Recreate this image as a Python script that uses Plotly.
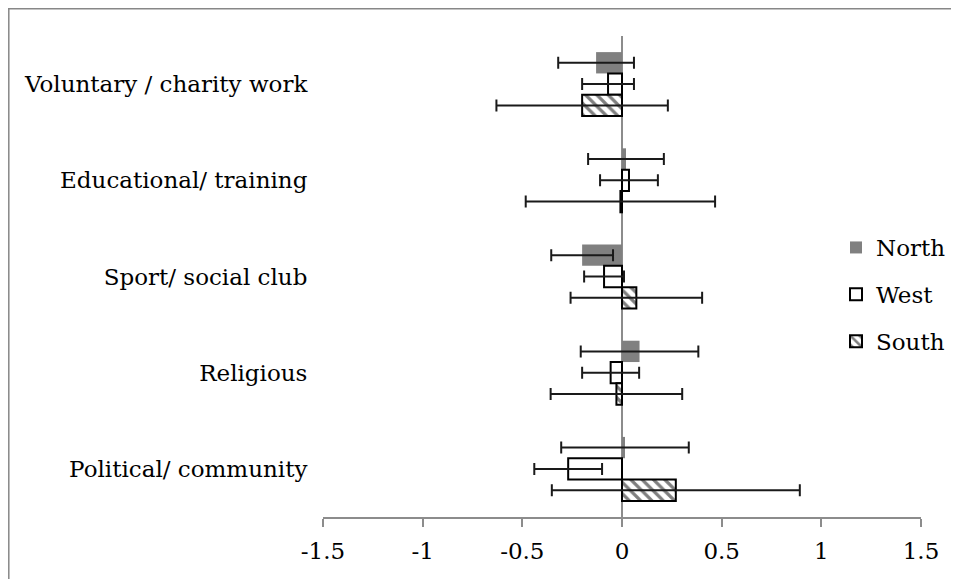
import plotly.graph_objects as go

categories = ["Voluntary / charity work", "Educational/ training", "Sport/ social club",
              "Religious", "Political/ community"]
north = [-0.13, 0.02, -0.20, 0.088, 0.015]
north_err = [0.19, 0.19, 0.155, 0.295, 0.32]
west = [-0.07, 0.035, -0.09, -0.057, -0.27]
west_err = [0.13, 0.145, 0.10, 0.143, 0.17]
south = [-0.20, -0.008, 0.072, -0.028, 0.27]
south_err = [0.43, 0.475, 0.33, 0.33, 0.622]
x_ticks = [-1.5, -1, -0.5, 0, 0.5, 1, 1.5]
x_ticklabels = ["-1.5", "-1", "-0.5", "0", "0.5", "1", "1.5"]

FONT = "DejaVu Serif"
FS = 23
ERR = dict(type="data", visible=True, color="#1a1a1a", thickness=2, width=6)

fig = go.Figure()
fig.add_trace(go.Bar(
    name="North", y=categories, x=north, orientation="h",
    marker=dict(color="#808080", line=dict(width=0)),
    error_x=dict(array=north_err, **ERR), legendgroup="n",
))
fig.add_trace(go.Bar(
    name="West", y=categories, x=west, orientation="h",
    marker=dict(color="white", line=dict(color="black", width=2)),
    error_x=dict(array=west_err, **ERR), legendgroup="w",
))
fig.add_trace(go.Bar(
    name="South", y=categories, x=south, orientation="h",
    marker=dict(color="white", line=dict(color="black", width=2),
                pattern=dict(shape="\\", fgcolor="black", bgcolor="white", size=8, solidity=0.4)),
    error_x=dict(array=south_err, **ERR), legendgroup="s",
))

# page offset (body margin) of 8px
OFF = 8
W, H = 959, 579
# plot area in page px: x 323..921, y 36..517
L, R, T, B = 323 - OFF, 921 - OFF, 36 - OFF, 517 - OFF
def px(xp):
    return (xp - OFF - L) / (R - L)
def py(yp):
    return (B - (yp - OFF)) / (B - T)

fig.update_layout(
    width=W, height=H,
    margin=dict(l=L, r=W - R, t=T, b=H - B),
    paper_bgcolor="white", plot_bgcolor="white",
    barmode="group", bargap=0.335, bargroupgap=0,
    font=dict(family=FONT, size=FS, color="black"),
    xaxis=dict(range=[-1.5, 1.5], tickvals=x_ticks, ticktext=x_ticklabels,
               showgrid=False, zeroline=True, zerolinecolor="#8c8c8c", zerolinewidth=1.5,
               showline=True, linecolor="#8c8c8c", linewidth=1.5,
               ticks="outside", ticklen=8, tickcolor="#8c8c8c", tickwidth=1.5,
               ticklabelstandoff=5,
               tickfont=dict(family=FONT, size=FS, color="black")),
    yaxis=dict(autorange="reversed", showgrid=False, zeroline=False, showline=False,
               ticks="outside", ticklen=10, tickcolor="rgba(0,0,0,0)",
               tickfont=dict(family=FONT, size=FS, color="black")),
    legend=dict(x=px(836), y=py(226), xanchor="left", yanchor="top",
                bgcolor="rgba(0,0,0,0)", tracegroupgap=14, traceorder="grouped",
                font=dict(family=FONT, size=FS, color="black"), itemwidth=30),
    showlegend=True,
    shapes=[
        dict(type="line", xref="paper", yref="paper", x0=px(8), x1=px(967), y0=py(8.8), y1=py(8.8),
             line=dict(color="#878787", width=1.5)),
        dict(type="line", xref="paper", yref="paper", x0=px(8.8), x1=px(8.8), y0=py(8.8), y1=py(590),
             line=dict(color="#878787", width=1.5)),
    ],
)

fig.write_html("out.html")
